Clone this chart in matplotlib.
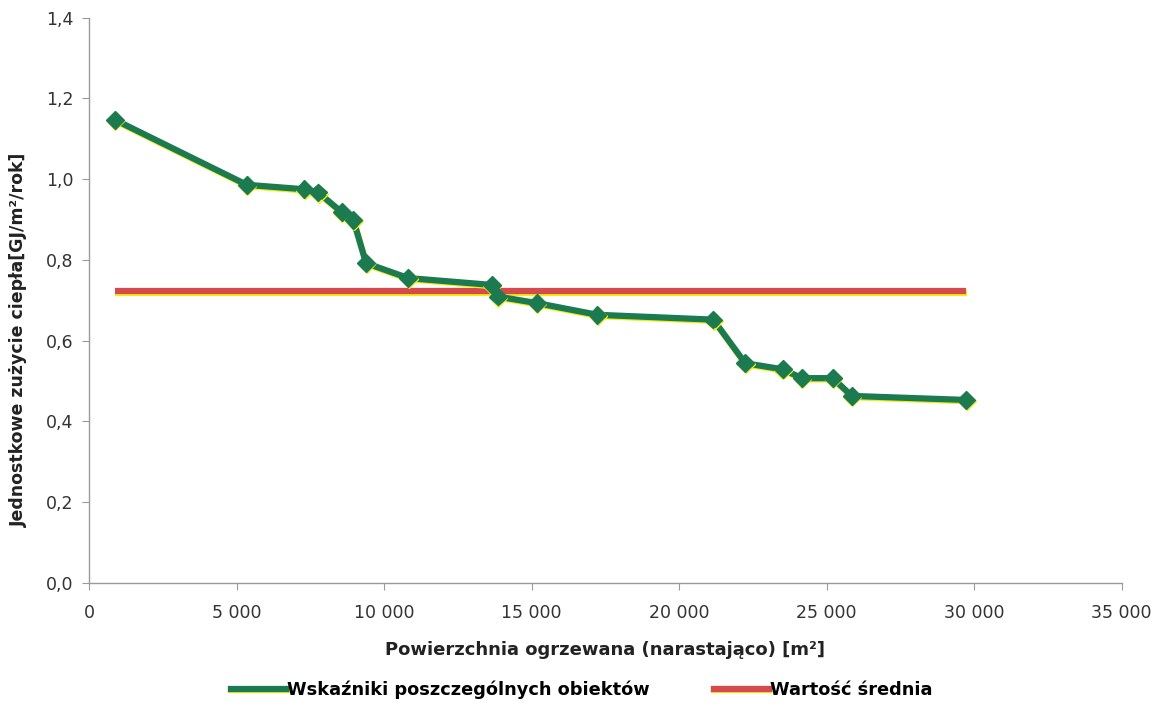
import numpy as np
import matplotlib
matplotlib.use('Agg')
import matplotlib.pyplot as plt
import matplotlib.ticker as mticker
import matplotlib.patheffects as pe
from matplotlib.lines import Line2D

plt.rcParams['font.family'] = 'DejaVu Sans'

# Dane
powierzchnia = [880, 5350, 7300, 7770, 8570, 8960, 9390, 10820, 13650, 13860,
                15180, 17230, 21160, 22240, 23510, 24160, 25210, 25850, 29730]
wskazniki = [1.147, 0.986, 0.975, 0.967, 0.918, 0.899, 0.792, 0.755, 0.738, 0.709,
             0.693, 0.664, 0.652, 0.544, 0.529, 0.507, 0.507, 0.463, 0.453]
srednia_x = [880, 29730]
srednia_y = [0.722, 0.722]

COR_ZIELONY = '#1c7a50'
COR_CZERWONY = '#d64a4e'
COR_CIEN = '#f0ee10'

fig = plt.figure(figsize=(11.63, 7.09), dpi=100)
ax = fig.add_axes([0.0765, 0.178, 0.888, 0.797])

cien = [pe.SimpleLineShadow(offset=(0.4, -0.9), shadow_color=COR_CIEN, alpha=1.0), pe.Normal()]

ax.plot(srednia_x, srednia_y, color=COR_CZERWONY, linewidth=4.5, solid_capstyle='butt',
        path_effects=cien, zorder=2)
ax.plot(powierzchnia, wskazniki, color=COR_ZIELONY, linewidth=4.5, marker='D', markersize=9,
        markeredgecolor=COR_ZIELONY, path_effects=cien, zorder=3)

ax.set_xlim(0, 35000)
ax.set_ylim(0, 1.4)
ax.set_xticks(np.arange(0, 35001, 5000))
ax.set_yticks(np.arange(0, 1.41, 0.2))
ax.xaxis.set_major_formatter(mticker.FuncFormatter(lambda x, _: f'{int(x):,}'.replace(',', ' ')))
ax.yaxis.set_major_formatter(mticker.FuncFormatter(lambda y, _: f'{y:.1f}'.replace('.', ',')))

for s in ['top', 'right']:
    ax.spines[s].set_visible(False)
for s in ['left', 'bottom']:
    ax.spines[s].set_color('#9a9a9a')
    ax.spines[s].set_linewidth(1.0)
ax.tick_params(axis='both', colors='#9a9a9a', labelcolor='#333333', labelsize=12.5, length=5)
ax.tick_params(axis='x', pad=10)
ax.tick_params(axis='y', pad=6)

ax.set_xlabel('Powierzchnia ogrzewana (narastająco) [m²]', fontsize=13, fontweight='bold',
              labelpad=14, color='#222222')
ax.set_ylabel('Jednostkowe zużycie ciepła[GJ/m²/rok]', fontsize=12.5, fontweight='bold',
              color='#222222')
ax.yaxis.set_label_coords(-0.059, 0.43)

uchwyty = [
    Line2D([0], [0], color=COR_ZIELONY, linewidth=4.5, path_effects=cien),
    Line2D([0], [0], color=COR_CZERWONY, linewidth=4.5, path_effects=cien),
]
fig.legend(uchwyty, ['Wskaźniki poszczególnych obiektów', 'Wartość średnia'],
           loc='center', bbox_to_anchor=(0.5, 0.027), ncol=2, frameon=False,
           handlelength=3.1, handletextpad=0.05, columnspacing=3.6,
           prop={'weight': 'bold', 'size': 12.8})

fig.savefig('out.png', dpi=100)
